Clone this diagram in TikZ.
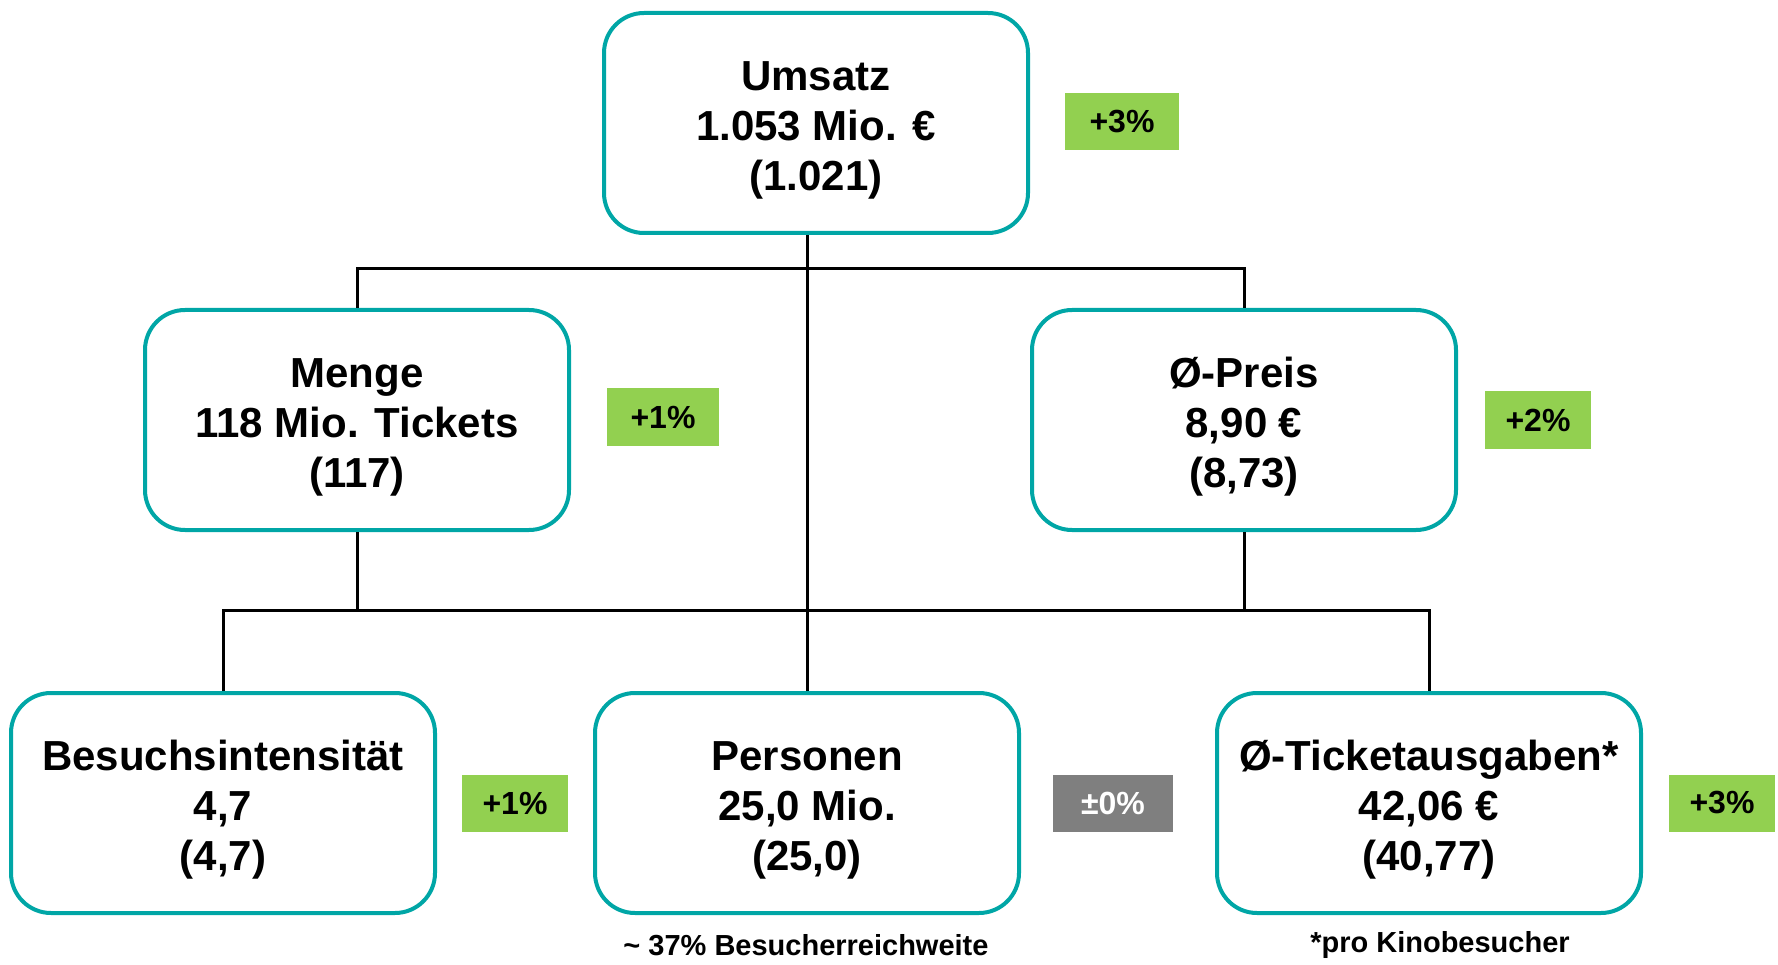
\documentclass[tikz,border=0pt]{standalone}
\usepackage{fontspec}
\setmainfont{Liberation Sans}
\usetikzlibrary{positioning}

\definecolor{teal}{RGB}{0,166,166}
\definecolor{plus}{RGB}{146,208,80}
\definecolor{zero}{RGB}{127,127,127}
\newcommand\kpitop{\rule{0pt}{43pt}}

\tikzset{
  kpi/.style={draw=teal,line width=4pt,rounded corners=40pt,fill=white,
    minimum width=424pt,minimum height=220pt,align=center,inner sep=0pt,
    font=\bfseries\fontsize{42}{50}\selectfont},
  delta/.style={fill=plus,minimum width=106pt,minimum height=57pt,inner sep=0pt,
    font=\bfseries\fontsize{32}{36}\selectfont},
  flat/.style={delta,fill=zero,text=white,minimum width=120pt},
  note/.style={font=\bfseries\fontsize{29}{32}\selectfont},
  wire/.style={line width=3pt}
}

\begin{document}
\begin{tikzpicture}[x=1pt,y=-1pt]
        \useasboundingbox (0,0) rectangle (1778,965);
        % top
        \node[kpi] (umsatz) at (816,123) {\kpitop Umsatz\\1.053 Mio. €\\(1.021)};
        \node[delta,minimum width=114pt] (dumsatz) at (1122,122) {+3\%};
        % middle
        \node[kpi] (menge) at (357,420) {\kpitop Menge\\118 Mio. Tickets\\(117)};
        \node[delta,minimum width=112pt] (dmenge) at (663,417) {+1\%};
        \node[kpi] (preis) at (1244,420) {\kpitop Ø-Preis\\8,90 €\\(8,73)};
        \node[delta] (dpreis) at (1538,420) {+2\%};
        % bottom
        \node[kpi] (besuch) at (223,803) {\kpitop Besuchsintensität\\4,7\\(4,7)};
        \node[delta] (dbesuch) at (515,803) {+1\%};
        \node[kpi] (personen) at (807,803) {\kpitop Personen\\25,0 Mio.\\(25,0)};
        \node[flat] (dpersonen) at (1113,803) {±0\%};
        \node[kpi] (ticket) at (1429,803) {\kpitop Ø-Ticketausgaben*\\42,06 €\\(40,77)};
        \node[delta] (dticket) at (1722,803) {+3\%};
        \node[note] (reichweite) at (806,945) {\textasciitilde{} 37\% Besucherreichweite};
        \node[note] (fussnote) at (1440,945) {*pro Kinobesucher};
        % wires
        \coordinate (topbus) at (807,269);
        \coordinate (lowbus) at (807,610);
        \draw[wire] (personen.north) -- (personen.north |- umsatz.south);
        \draw[wire] (menge.north) |- (topbus) -| (preis.north);
        \draw[wire] (besuch.north) |- (lowbus) -| (ticket.north);
        \draw[wire] (menge.south) -- (menge.south |- lowbus);
        \draw[wire] (preis.south) -- (preis.south |- lowbus);
\end{tikzpicture}
\end{document}
